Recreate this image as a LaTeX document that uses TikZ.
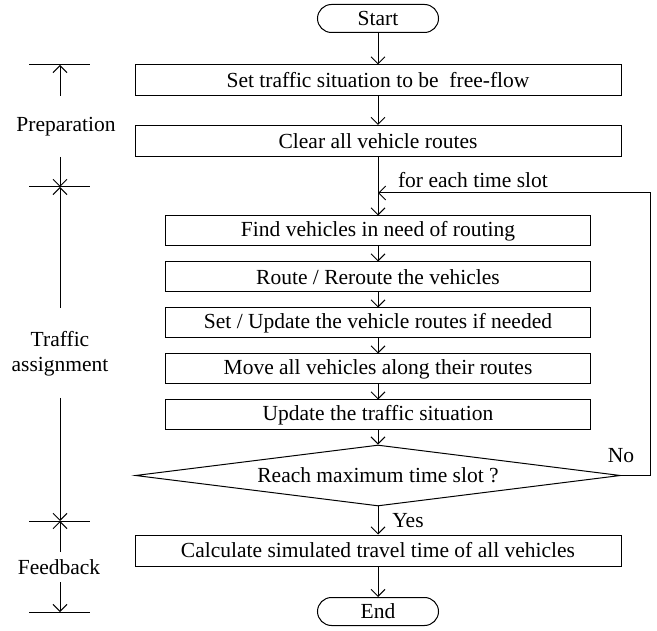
\documentclass[tikz,border=0pt]{standalone}
\usepackage{fontspec}
\setmainfont{Liberation Serif}
\usetikzlibrary{shapes.geometric,arrows.meta}
\begin{document}
\begin{tikzpicture}[x=1pt,y=-1pt,
  font=\fontsize{21.5}{25.5}\selectfont,
  line width=1pt,
  arr/.style={-{Straight Barb[length=7pt,width=14pt,line width=1pt]}},
  wide/.style={draw, minimum width=486pt, minimum height=31pt, inner sep=0pt},
  inner/.style={draw, minimum width=425pt, minimum height=30pt, inner sep=0pt},
  term/.style={draw, rounded corners=14pt, minimum width=121pt, minimum height=28pt, inner sep=0pt},
  decision/.style={draw, diamond, aspect=8, minimum width=485pt, minimum height=61pt, inner sep=0pt},
  lbl/.style={inner sep=1pt}]
\useasboundingbox (0,0) rectangle (657,631);

% main flow
\node[term]     (start) at (378,18.5)  {Start};
\node[wide]     (b1)    at (378,80.5)  {Set traffic situation to be\ \ free-flow};
\node[wide]     (b2)    at (378,141)   {Clear all vehicle routes};
\node[inner]    (b3)    at (378,231)   {Find vehicles in need of routing};
\node[inner]    (b4)    at (378,277)   {Route / Reroute the vehicles};
\node[inner]    (b5)    at (378,323)   {Set / Update the vehicle routes if needed};
\node[inner]    (b6)    at (378,369)   {Move all vehicles along their routes};
\node[inner]    (b7)    at (378,415)   {Update the traffic situation};
\node[decision] (dec)   at (378,475.5) {Reach maximum time slot ?};
\node[wide]     (b8)    at (378,550.5) {Calculate simulated travel time of all vehicles};
\node[term]     (end)   at (378,611.5) {End};

\draw[arr] (start) -- (b1);
\draw[arr] (b1) -- (b2);
\draw[arr] (b2) -- (b3);
\draw[arr] (b3) -- (b4);
\draw[arr] (b4) -- (b5);
\draw[arr] (b5) -- (b6);
\draw[arr] (b6) -- (b7);
\draw[arr] (b7) -- (dec);
\draw[arr] (dec) -- (b8);
\draw[arr] (b8) -- (end);
\node[lbl] (yes) at (408,521) {Yes};

% loop back for the next time slot
\coordinate (loopin) at (378,193);
\coordinate (loopr)  at (650,193);
\draw[arr] (dec.east) -| (loopr) -- (loopin);
\node[lbl] (each) at (473,180) {for each time slot};
\node[lbl] (no)   at (621,456) {No};

% phase markers on the left
\foreach \n/\y in {m1/65, m2/187, m3/521, m4/612}
  \draw (29,\y) coordinate (\n a) -- (90,\y) coordinate (\n b);
\coordinate (p1) at (60,65);
\coordinate (p2) at (60,187);
\coordinate (p3) at (60,521);
\coordinate (p4) at (60,612);
\node (prep) at (66,127) {Preparation};
\node[align=center] (ta) at (60,354) {Traffic\\assignment};
\node (fb) at (59,567) {Feedback};
\coordinate (prepT) at (60,96);
\coordinate (prepB) at (60,157);
\coordinate (taT) at (60,308);
\coordinate (taB) at (60,398);
\coordinate (fbT) at (60,552);
\coordinate (fbB) at (60,582);
\draw[arr] (prepT) -- (p1);
\draw[arr] (prepB) -- (p2);
\draw[arr] (taT) -- (p2);
\draw[arr] (taB) -- (p3);
\draw[arr] (fbT) -- (p3);
\draw[arr] (fbB) -- (p4);
\end{tikzpicture}
\end{document}
